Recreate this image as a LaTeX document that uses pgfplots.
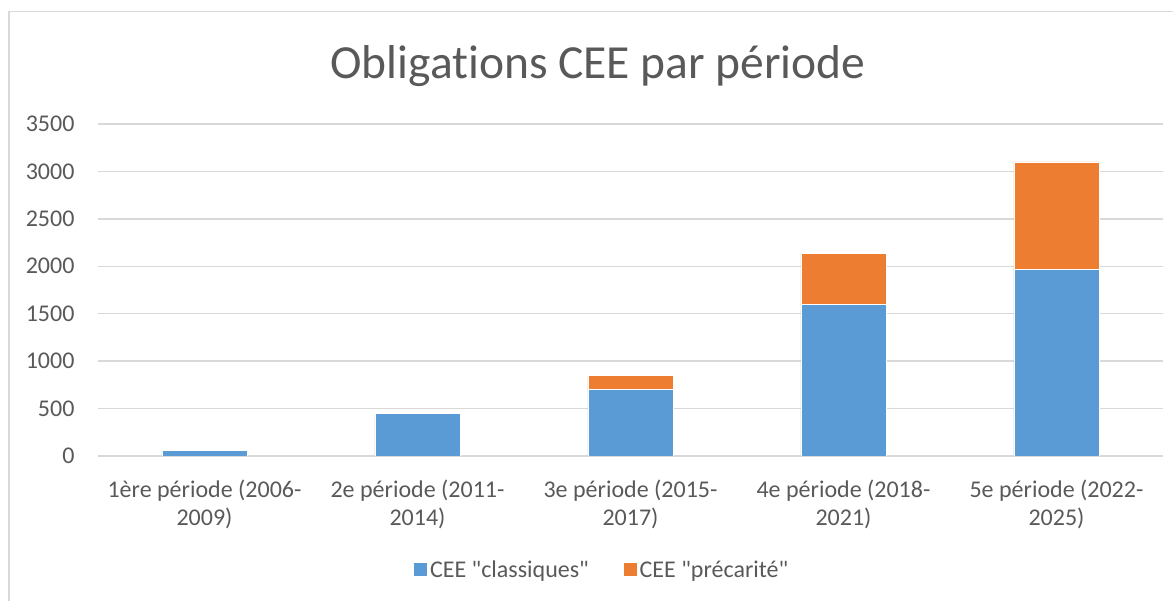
\documentclass[border=0pt]{standalone}
\usepackage{fontspec}
\setmainfont{Carlito}[Ligatures={TeXOff,CommonOff}]
\usepackage{pgfplots}
\usepackage{pgfplotstable}
\pgfplotsset{compat=1.18}
\definecolor{cblue}{HTML}{5B9BD5}
\definecolor{corange}{HTML}{ED7D31}
\definecolor{tgray}{HTML}{595959}
\definecolor{gridc}{HTML}{D9D9D9}
\pgfplotstableread{
x classiques precarite
0 54 0
1 447 0
2 700 150
3 1600 533
4 1965 1135
}\data
\begin{document}
\begin{tikzpicture}
\path[use as bounding box] (0,0) rectangle (1173bp,601bp);
\draw[gridc, line width=1.6bp] (8.7bp,-5bp) -- (8.7bp,589.3bp) -- (1185bp,589.3bp);
\node[text=tgray, font=\fontsize{47.5bp}{56bp}\selectfont] at (598bp,535bp) {Obligations CEE par période};
\begin{axis}[
  at={(98bp,145bp)}, anchor=south west, scale only axis,
  width=1065bp, height=332bp,
  ymin=0, ymax=3500, ytick={0,500,...,3500},
  xmin=-0.5, xmax=4.5, xtick={0,...,4},
  xticklabels={{1ère période (2006-\\2009)},{2e période (2011-\\2014)},{3e période (2015-\\2017)},{4e période (2018-\\2021)},{5e période (2022-\\2025)}},
  ybar stacked, bar width=85bp,
  separate axis lines, axis x line*=bottom, axis y line*=left,
  axis line style={draw=none},
  ymajorgrids, grid style={gridc, line width=1.3bp},
  major tick length=0pt,
  /pgf/number format/assume math mode=true,
  /pgf/number format/1000 sep={},
  tick label style={text=tgray, font=\fontsize{24bp}{28.5bp}\selectfont},
  xticklabel style={align=center, yshift=-20bp},
  yticklabel style={xshift=-20bp},
  legend style={at={(0.473,-0.343)}, anchor=center, draw=none, fill=none,
    font=\fontsize{24bp}{28bp}\selectfont, text=tgray,
    legend columns=2,
    /tikz/every odd column/.append style={inner sep=0pt},
    /tikz/every even column/.append style={column sep=32bp}},
  legend image code/.code={\fill[#1] (0bp,-7bp) rectangle (14bp,7bp);},
]
\addplot[fill=cblue, draw=white, line width=0.8bp] table[x=x, y=classiques] {\data};
\addlegendentry{CEE "classiques"}
\addplot[fill=corange, draw=white, line width=0.8bp] table[x=x, y=precarite] {\data};
\addlegendentry{CEE "précarité"}
\end{axis}
\end{tikzpicture}
\end{document}
